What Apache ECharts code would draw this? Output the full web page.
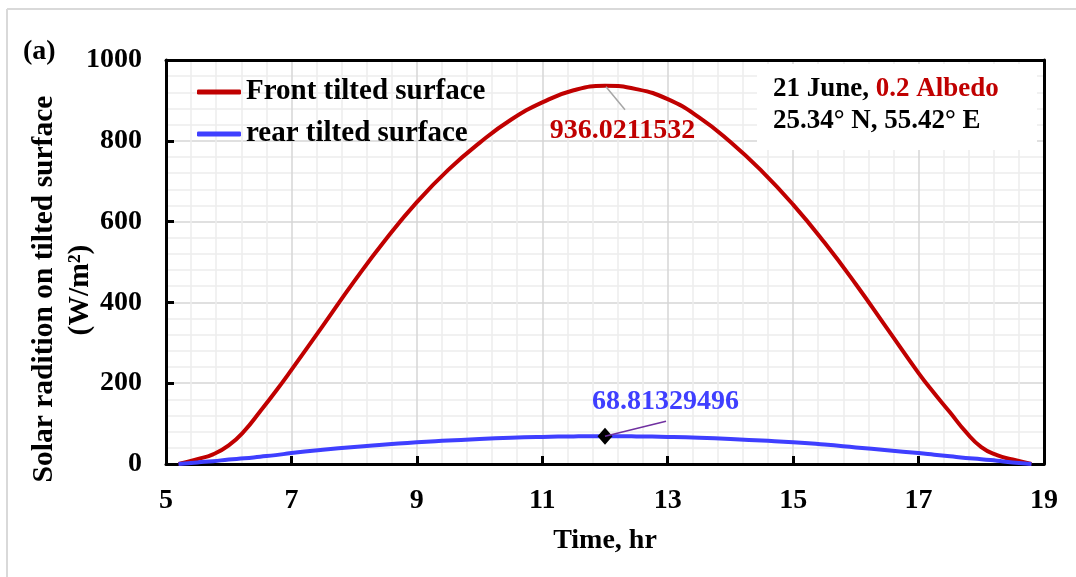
<!DOCTYPE html>
<html><head><meta charset="utf-8">
<script src="https://cdn.jsdelivr.net/npm/echarts@6/dist/echarts.min.js"></script>
<style>html,body{margin:0;padding:0;background:#fff}#c{width:1076px;height:577px}</style>
</head><body><div id="c"></div>
<script>
// ---- data ----
const hours = [5.2, 5.5, 5.75, 6.0, 6.25, 6.5, 6.75, 7, 7.5, 8, 8.5, 9, 9.5, 10, 10.5, 11, 11.5, 12,
               12.5, 13, 13.5, 14, 14.5, 15, 15.5, 16, 16.5, 17, 17.25, 17.5, 17.75, 18, 18.25, 18.5, 18.8];
const frontSurface = [0, 12, 24, 46, 82, 130, 180, 233, 342, 452, 555, 648, 728, 795, 852, 895, 925, 936.0211532,
                      928, 903, 858, 797, 725, 642, 548, 445, 335, 225, 175, 128, 80, 42, 22, 11, 0];
const rearSurface = [0, 4, 7, 11, 14, 18, 22, 27, 35, 42, 48, 54, 58, 62, 65, 67, 68.3, 68.81329496,
                     68.3, 67, 65, 62, 58, 54, 48, 41, 34, 27, 23, 19, 15, 12, 8, 4, 0];
const peakFront = [12, 936.0211532];
const peakRear = [12, 68.81329496];
const xRange = {min: 5, max: 19, interval: 2};
const yRange = {min: 0, max: 1000, interval: 200};
const seriesNames = ['Front tilted surface', 'rear tilted surface'];
const xAxisTitle = 'Time, hr';
const yAxisTitle = ['Solar radition on tilted surface', '(W/m\u00B2)'];
const panelTag = '(a)';
const infoLine1 = ['21 June, ', '0.2 Albedo'];
const infoLine2 = '25.34\u00B0 N, 55.42\u00B0 E';

// ---- chart ----
const FONT = '"Liberation Serif","Times New Roman",serif';
const RED = '#C00000', BLUE = '#3F3FFF';
const chart = echarts.init(document.getElementById('c'), null, {renderer: 'canvas'});
const txt = (size, color) => ({fontFamily: FONT, fontSize: size, fontWeight: 'bold', color: color || '#000'});
const frameAxis = {
  axisLine: {show: true, onZero: false, lineStyle: {color: '#000', width: 3}},
  axisTick: {show: false}, axisLabel: {show: false}, splitLine: {show: false}
};

const option = {
  animation: false,
  backgroundColor: '#fff',
  grid: {left: 166, right: 32, top: 60, bottom: 113},
  xAxis: [{
    type: 'value', min: xRange.min, max: xRange.max, interval: xRange.interval,
    axisLine: {onZero: false, lineStyle: {color: '#000', width: 3}},
    axisTick: {inside: true, length: 8, lineStyle: {color: '#000', width: 3}},
    axisLabel: Object.assign({margin: 23, formatter: v => String(v)}, txt(28)),
    splitLine: {show: true, showMinLine: false, showMaxLine: false, lineStyle: {color: '#d6d6d6', width: 1.5}},
    minorTick: {show: false, splitNumber: 5},
    minorSplitLine: {show: true, lineStyle: {color: '#ededed', width: 1.5}},
    name: xAxisTitle, nameLocation: 'middle', nameGap: 63, nameTextStyle: txt(28)
  }, Object.assign({type: 'value', position: 'top', min: xRange.min, max: xRange.max}, frameAxis)],
  yAxis: [{
    type: 'value', min: yRange.min, max: yRange.max, interval: yRange.interval,
    axisLine: {onZero: false, lineStyle: {color: '#000', width: 3}},
    axisTick: {inside: true, length: 8, lineStyle: {color: '#000', width: 3}},
    axisLabel: Object.assign({margin: 24, formatter: v => String(v)}, txt(28)),
    splitLine: {show: true, showMinLine: false, showMaxLine: false, lineStyle: {color: '#d6d6d6', width: 1.5}},
    minorTick: {show: false, splitNumber: 5},
    minorSplitLine: {show: true, lineStyle: {color: '#ededed', width: 1.5}}
  }, Object.assign({type: 'value', position: 'right', min: yRange.min, max: yRange.max}, frameAxis)],
  legend: {
    data: seriesNames, orient: 'vertical', left: 192, top: 72,
    itemWidth: 44, itemHeight: 5, itemGap: 12, icon: 'roundRect',
    textStyle: Object.assign({lineHeight: 30}, txt(29))
  },
  series: [
    {name: seriesNames[0], type: 'line', smooth: 0.5, smoothConstraint: false, symbol: 'none', z: 3,
     data: hours.map((h, i) => [h, frontSurface[i]]),
     lineStyle: {color: RED, width: 4}, itemStyle: {color: RED}},
    {name: seriesNames[1], type: 'line', smooth: 0.5, smoothConstraint: false, symbol: 'none', z: 3,
     data: hours.map((h, i) => [h, rearSurface[i]]),
     lineStyle: {color: BLUE, width: 4}, itemStyle: {color: BLUE}},
    {type: 'scatter', data: [peakFront], symbolSize: 1, itemStyle: {color: 'rgba(0,0,0,0)', opacity: 1}, z: 6, silent: true,
     label: Object.assign({show: true, position: [18, 45], align: 'center', verticalAlign: 'middle',
       formatter: p => String(p.value[1])}, txt(28, RED))},
    {type: 'scatter', data: [peakRear], symbol: 'diamond', symbolSize: [15, 17], z: 6, silent: true,
     itemStyle: {color: '#000', opacity: 1},
     label: Object.assign({show: true, position: [68, -26], align: 'center', verticalAlign: 'middle',
       formatter: p => String(p.value[1])}, txt(28, BLUE))}
  ]
};
chart.setOption(option);

const pF = chart.convertToPixel({gridIndex: 0}, peakFront);
const pR = chart.convertToPixel({gridIndex: 0}, peakRear);
chart.setOption({
  graphic: [
    {type: 'line', shape: {x1: 7, y1: 9, x2: 1076, y2: 9}, style: {stroke: '#d9d9d9', lineWidth: 2}, silent: true},
    {type: 'line', shape: {x1: 7, y1: 9, x2: 7, y2: 577}, style: {stroke: '#d9d9d9', lineWidth: 2}, silent: true},
    {type: 'text', x: 23, y: 52, style: {text: panelTag, fontFamily: FONT, fontSize: 28, fontWeight: 'bold',
      fill: '#000', align: 'left', verticalAlign: 'middle'}},
    {type: 'text', x: 44, y: 289, rotation: Math.PI / 2, style: {text: yAxisTitle[0], fontFamily: FONT,
      fontSize: 29.5, fontWeight: 'bold', fill: '#000', align: 'center', verticalAlign: 'middle'}},
    {type: 'text', x: 80, y: 290, rotation: Math.PI / 2, style: {text: yAxisTitle[1], fontFamily: FONT,
      fontSize: 29.5, fontWeight: 'bold', fill: '#000', align: 'center', verticalAlign: 'middle'}},
    {type: 'rect', z: 10, shape: {x: 757, y: 64, width: 280, height: 86}, style: {fill: '#fff'}},
    {type: 'text', z: 11, x: 773, y: 89, style: {
      text: '{k|' + infoLine1[0] + '}{r|' + infoLine1[1] + '}', verticalAlign: 'middle', align: 'left',
      rich: {k: {fontFamily: FONT, fontSize: 27, fontWeight: 'bold', fill: '#000', color: '#000'},
             r: {fontFamily: FONT, fontSize: 27, fontWeight: 'bold', fill: RED, color: RED}}}},
    {type: 'text', z: 11, x: 773, y: 121, style: {text: infoLine2, fontFamily: FONT, fontSize: 27,
      fontWeight: 'bold', fill: '#000', align: 'left', verticalAlign: 'middle'}},
    {type: 'line', z: 12, shape: {x1: pF[0] + 1, y1: pF[1] + 1, x2: pF[0] + 20, y2: pF[1] + 24},
      style: {stroke: '#a6a6a6', lineWidth: 1.5}},
    {type: 'line', z: 12, shape: {x1: pR[0], y1: pR[1], x2: pR[0] + 61, y2: pR[1] - 15},
      style: {stroke: '#7030A0', lineWidth: 1.5}}
  ]
});
</script></body></html>
